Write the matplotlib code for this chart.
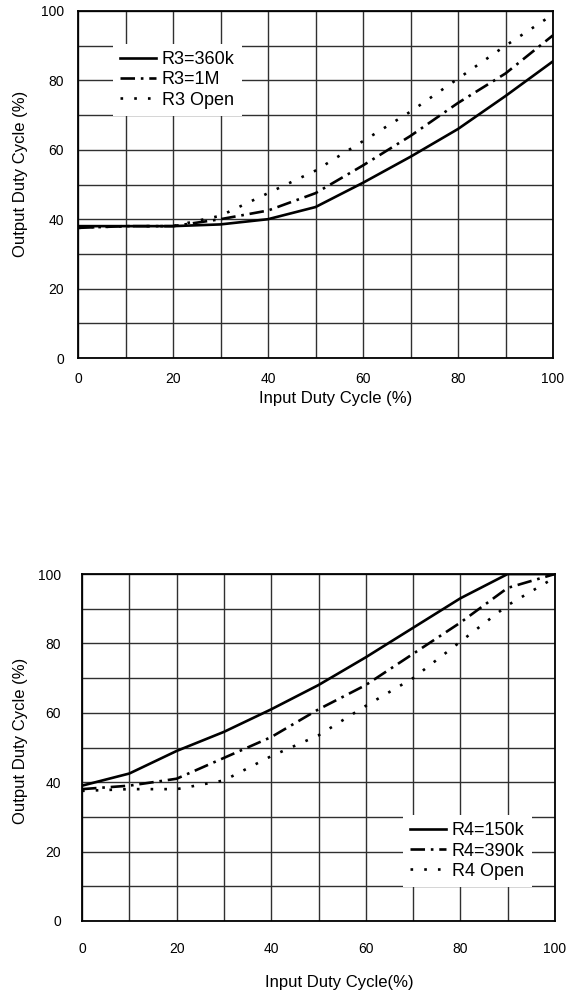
import matplotlib
matplotlib.use("Agg")
import matplotlib.pyplot as plt

plt.rcParams['font.family'] = ['Liberation Sans', 'DejaVu Sans']

x_haut = [0, 10, 20, 30, 40, 50, 60, 70, 80, 90, 100]
r3_360k = [38, 38, 38, 38.5, 40, 43.5, 50.5, 58, 66, 75.5, 85.5]
r3_1m = [37.5, 38, 38, 40, 42.5, 47.5, 55.5, 64, 73.5, 82, 93]
r3_open = [37.5, 38, 38, 41, 47.5, 54, 62.5, 71, 80.5, 90, 99]

# donnees du graphique du bas (R4)
x_bas = [0, 10, 20, 30, 40, 50, 60, 70, 80, 90, 100]
r4_150k = [39, 42.5, 49, 54.5, 61, 68, 76, 84.5, 93, 100, 100]
r4_390k = [38, 39, 41, 47, 53, 61, 68, 77, 86, 96, 100]
r4_open = [37.5, 38, 38, 40.5, 47.5, 53.5, 62, 70, 80.5, 91, 99]

labels_haut = ["R3=360k", "R3=1M", "R3 Open"]
labels_bas = ["R4=150k", "R4=390k", "R4 Open"]

styles = [
    dict(linestyle="-"),
    dict(linestyle=(0, (5.5, 2.2, 1.0, 2.2))),
    dict(linestyle=(0, (1.0, 4.2))),
]

fig = plt.figure(figsize=(5.74, 9.94), dpi=100)
ax_1 = fig.add_axes([78 / 574, 1 - 358 / 994, 475 / 574, 347 / 994])
ax_2 = fig.add_axes([82 / 574, 1 - 921 / 994, 473 / 574, 347 / 994])


def preparer(ax, pad):
    ax.set_xlim(0, 100)
    ax.set_ylim(0, 100)
    ax.set_xticks(range(0, 101, 20))
    ax.set_yticks(range(0, 101, 20))
    ax.set_xticks(range(0, 101, 10), minor=True)
    ax.set_yticks(range(0, 101, 10), minor=True)
    ax.grid(True, which="both", color="#303030", lw=1.0)
    ax.tick_params(which="both", length=0, labelsize=10, pad=pad)
    for s in ax.spines.values():
        s.set_linewidth(1.3)
    ax.set_ylabel("Output Duty Cycle (%)", fontsize=12)


def legende(ax, **kw):
    # cadre blanc sans bordure, comme sur l'original
    leg = ax.legend(frameon=True, fontsize=13, handlelength=2.0, borderpad=0.4,
                    labelspacing=0.18, handletextpad=0.3, borderaxespad=0, **kw)
    leg.get_frame().set_edgecolor("none")
    leg.get_frame().set_alpha(1)
    leg.get_frame().set_boxstyle("square", pad=0)


preparer(ax_1, 10)
for y, lab, st in zip([r3_360k, r3_1m, r3_open], labels_haut, styles):
    ax_1.plot(x_haut, y, color="black", lw=1.9, label=lab, **st)
ax_1.set_xlabel("Input Duty Cycle (%)", fontsize=12)
ax_1.xaxis.set_label_coords(0.543, -0.095)
ax_1.yaxis.set_label_coords(-0.105, 0.53)
legende(ax_1, loc="upper left", bbox_to_anchor=(0.074, 0.905))

preparer(ax_2, 15)
for y, lab, st in zip([r4_150k, r4_390k, r4_open], labels_bas, styles):
    ax_2.plot(x_bas, y, color="black", lw=1.9, label=lab, **st)
ax_2.set_xlabel("Input Duty Cycle(%)", fontsize=12)
ax_2.xaxis.set_label_coords(0.545, -0.156)
ax_2.yaxis.set_label_coords(-0.114, 0.519)
legende(ax_2, loc="lower right", bbox_to_anchor=(0.951, 0.098))

fig.savefig("out.png", dpi=100)
